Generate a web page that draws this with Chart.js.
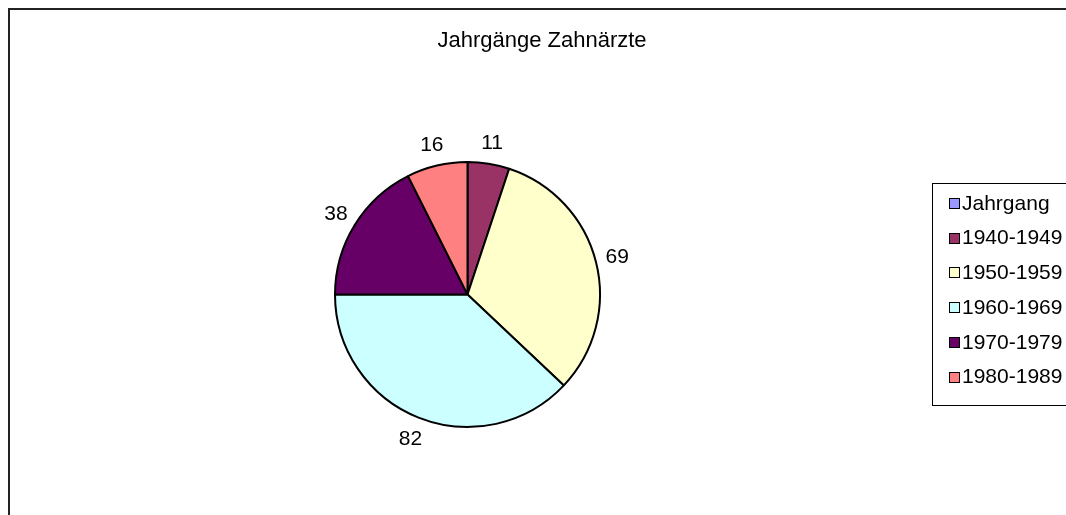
<!DOCTYPE html>
<html>
<head>
<meta charset="utf-8">
<script src="https://cdn.jsdelivr.net/npm/chart.js@4"></script>
<style>
  body { margin: 0; background: #fff; }
  canvas { display: block; }
</style>
</head>
<body>
<canvas id="myChart" width="1066" height="515"></canvas>
<script>
// data
var chartTitle = 'Jahrgänge Zahnärzte';
var labels = ['Jahrgang', '1940-1949', '1950-1959', '1960-1969', '1970-1979', '1980-1989'];
var values = [0, 11, 69, 82, 38, 16];
var colors = ['#9999FF', '#993366', '#FFFFCC', '#CCFFFF', '#660066', '#FF8080'];

var font = '"Liberation Sans", Arial, sans-serif';

// border, title, value labels and legend drawn by hand (Excel look)
var extras = {
  id: 'extras',
  beforeDraw: function(chart) {
    var ctx = chart.ctx;
    ctx.save();
    ctx.fillStyle = '#fff';
    ctx.fillRect(0, 0, chart.width, chart.height);
    ctx.restore();
  },
  afterDraw: function(chart) {
    var ctx = chart.ctx;
    ctx.save();

    // outer frame
    ctx.strokeStyle = '#222';
    ctx.lineWidth = 2;
    ctx.beginPath();
    ctx.moveTo(9, chart.height + 5);
    ctx.lineTo(9, 9);
    ctx.lineTo(chart.width + 5, 9);
    ctx.stroke();

    // title
    ctx.fillStyle = '#000';
    ctx.font = '22px ' + font;
    ctx.textAlign = 'center';
    ctx.textBaseline = 'middle';
    ctx.fillText(chartTitle, 542, 41);

    // value labels outside the slices
    ctx.font = '21px ' + font;
    var meta = chart.getDatasetMeta(0);
    meta.data.forEach(function(arc, i) {
      if (!values[i]) return;
      var p = arc.getProps(['x', 'y', 'startAngle', 'endAngle', 'outerRadius'], true);
      var mid = (p.startAngle + p.endAngle) / 2;
      var d = p.outerRadius + 22;
      ctx.fillText(String(values[i]), p.x + Math.cos(mid) * d, p.y + Math.sin(mid) * d + 1);
    });

    // legend
    ctx.strokeStyle = '#000';
    ctx.lineWidth = 1;
    ctx.strokeRect(932.5, 183.5, 200, 222);
    ctx.textAlign = 'left';
    for (var i = 0; i < labels.length; i++) {
      var y = 203 + i * 34.7;
      ctx.fillStyle = colors[i];
      ctx.fillRect(949.5, Math.round(y) - 4.5, 10, 10);
      ctx.strokeRect(949.5, Math.round(y) - 4.5, 10, 10);
      ctx.fillStyle = '#000';
      ctx.fillText(labels[i], 962, y + 1);
    }
    ctx.restore();
  }
};

new Chart(document.getElementById('myChart'), {
  type: 'pie',
  data: {
    labels: labels,
    datasets: [{
      data: values,
      backgroundColor: colors,
      borderColor: '#000',
      borderWidth: 2
    }]
  },
  options: {
    responsive: false,
    animation: false,
    layout: { padding: { left: 334, top: 161, right: 465, bottom: 87 } },
    plugins: {
      legend: { display: false },
      title: { display: false },
      tooltip: { enabled: false }
    }
  },
  plugins: [extras]
});
</script>
</body>
</html>
